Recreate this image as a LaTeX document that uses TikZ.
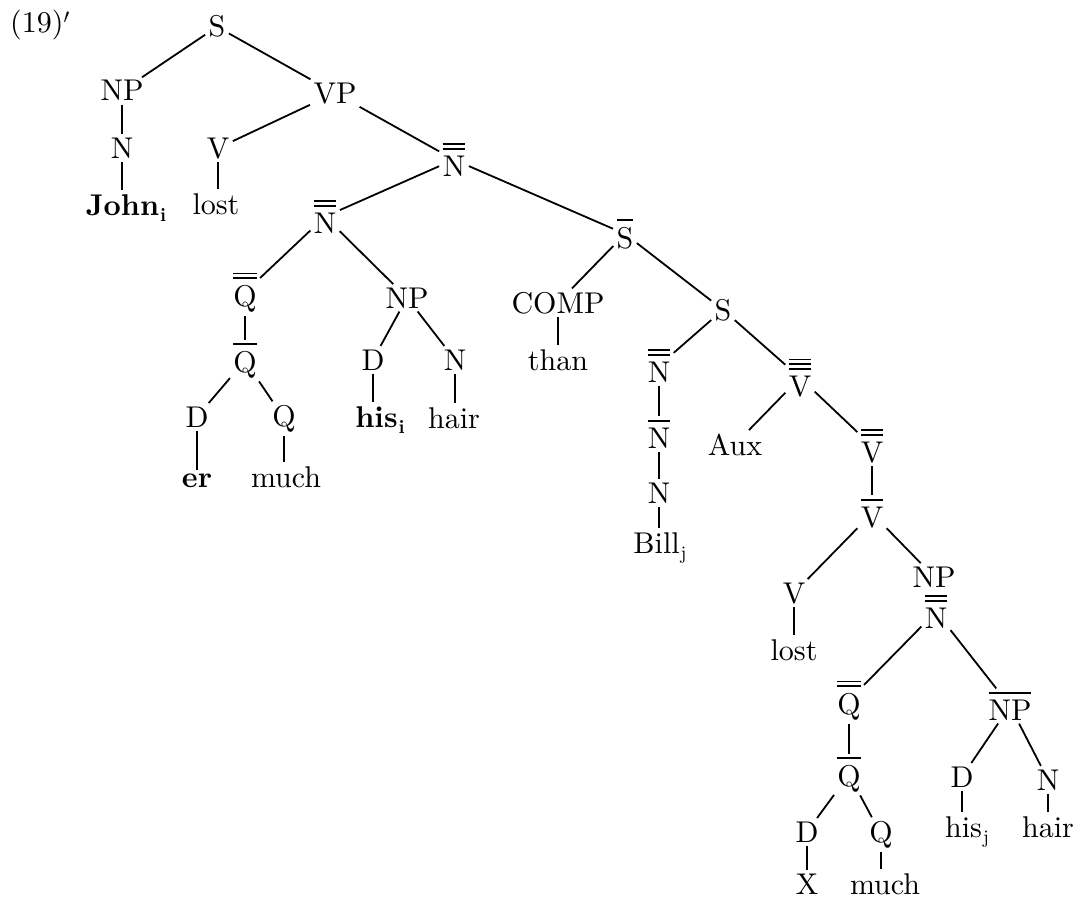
\documentclass[tikz,border=0pt]{standalone}
\usepackage{fontspec}
\setmainfont{lmroman10-regular.otf}[BoldFont=lmroman10-bold.otf]
\newbox\lblbox
% category labels with one, two or three bars above them
\newcommand\barI[1]{\setbox\lblbox=\hbox{#1}\vbox{\offinterlineskip\hrule height1.6pt\kern6pt\box\lblbox}}
\newcommand\barII[1]{\setbox\lblbox=\hbox{#1}\vbox{\offinterlineskip\hrule height1.6pt\kern3pt\hrule height1.6pt\kern6pt\box\lblbox}}
\newcommand\barIII[1]{\setbox\lblbox=\hbox{#1}\vbox{\offinterlineskip\hrule height1.6pt\kern3pt\hrule height1.6pt\kern3pt\hrule height1.6pt\kern6pt\box\lblbox}}
% index subscripts
\newcommand\subx[1]{\kern1pt\raisebox{-6pt}{\fontsize{19}{21}\selectfont #1}}
\tikzset{
  lab/.style={anchor=base, inner sep=2.5pt, font=\fontsize{30}{35}\selectfont},
  branch/.style={line width=1.8pt, shorten <=1pt, shorten >=1pt},
}
\begin{document}
\begin{tikzpicture}[x=1pt,y=-1pt]
\useasboundingbox (0,0) rectangle (1077,899);
\node[lab] (ex) at (40,33) {(19)$'$};
% upper part of the tree
\node[lab] (S0) at (217,37) {S};
\node[lab] (NP1) at (122,101) {NP};
\node[lab] (VP) at (335,103) {VP};
\node[lab] (N1) at (122,158) {N};
\node[lab] (V1) at (218,158) {V};
\node[lab] (John) at (126,215) {\textbf{John}\subx{\textbf{i}}};
\node[lab] (lost1) at (216,214) {lost};
\node[lab] (Nbb1) at (454,176) {\barII{N}};
\node[lab] (Nbb2) at (325,233) {\barII{N}};
\node[lab] (Sb) at (625,248) {\barI{S}};
% comparative phrase of the matrix clause
\node[lab] (Qbb1) at (245,306) {\barII{Q}};
\node[lab] (NP2) at (407,308) {NP};
\node[lab] (Qb1) at (245,372) {\barI{Q}};
\node[lab] (D1) at (197,427) {D};
\node[lab] (Q1) at (284,426) {Q};
\node[lab] (er) at (197,487) {\textbf{er}};
\node[lab] (much1) at (286,487) {much};
\node[lab] (D2) at (373,370) {D};
\node[lab] (N2) at (455,370) {N};
\node[lab] (his1) at (380,427) {\textbf{his}\subx{\textbf{i}}};
\node[lab] (hair1) at (454,428) {hair};
% than-clause
\node[lab] (COMP) at (558,313) {COMP};
\node[lab] (than) at (558,370) {than};
\node[lab] (S2) at (723,320) {S};
\node[lab] (Nbb3) at (659,382) {\barII{N}};
\node[lab] (Nb3) at (659,448) {\barI{N}};
\node[lab] (N3) at (659,503) {N};
\node[lab] (Bill) at (660,553) {Bill\subx{j}};
\node[lab] (Vbbb) at (800,396) {\barIII{V}};
\node[lab] (Aux) at (735,455) {Aux};
\node[lab] (Vbb) at (872,462) {\barII{V}};
\node[lab] (Vb) at (872,527) {\barI{V}};
\node[lab] (V2) at (794,603) {V};
\node[lab] (lost2) at (794,660) {lost};
\node[lab] (NP3) at (934,587) {NP};
\node[lab] (Nbb4) at (936,628) {\barII{N}};
\node[lab] (Qbb2) at (849,714) {\barII{Q}};
\node[lab] (NPb) at (1010,720) {\barI{NP}};
\node[lab] (Qb2) at (849,786) {\barI{Q}};
\node[lab] (D3) at (807,842) {D};
\node[lab] (Q3) at (881,842) {Q};
\node[lab] (X) at (807,894) {X};
\node[lab] (much2) at (885,894) {much};
\node[lab] (D4) at (962,787) {D};
\node[lab] (N4) at (1048,790) {N};
\node[lab] (his2) at (967,837) {his\subx{j}};
\node[lab] (hair2) at (1048,837) {hair};
% branches
\draw[branch] (S0) -- (NP1);
\draw[branch] (S0) -- (VP);
\draw[branch] (NP1) -- (N1);
\draw[branch] (N1) -- (N1 |- John.north);
\draw[branch] (VP) -- (V1);
\draw[branch] (V1) -- (V1 |- lost1.north);
\draw[branch] (VP) -- (Nbb1);
\draw[branch] (Nbb1) -- (Nbb2);
\draw[branch] (Nbb1) -- (Sb);
\draw[branch] (Nbb2) -- (Qbb1);
\draw[branch] (Nbb2) -- (NP2);
\draw[branch] (Qbb1) -- (Qb1);
\draw[branch] (Qb1) -- (D1);
\draw[branch] (Qb1) -- (Q1);
\draw[branch] (D1) -- (D1 |- er.north);
\draw[branch] (Q1) -- (Q1 |- much1.north);
\draw[branch] (NP2) -- (D2);
\draw[branch] (NP2) -- (N2);
\draw[branch] (D2) -- (D2 |- his1.north);
\draw[branch] (N2) -- (N2 |- hair1.north);
\draw[branch] (Sb) -- (COMP);
\draw[branch] (Sb) -- (S2);
\draw[branch] (COMP) -- (than);
\draw[branch] (S2) -- (Nbb3);
\draw[branch] (S2) -- (Vbbb);
\draw[branch] (Nbb3) -- (Nb3);
\draw[branch] (Nb3) -- (N3);
\draw[branch] (N3) -- (N3 |- Bill.north);
\draw[branch] (Vbbb) -- (Aux);
\draw[branch] (Vbbb) -- (Vbb);
\draw[branch] (Vbb) -- (Vb);
\draw[branch] (Vb) -- (V2);
\draw[branch] (Vb) -- (NP3);
\draw[branch] (V2) -- (lost2);
\draw[branch] (Nbb4) -- (Qbb2);
\draw[branch] (Nbb4) -- (NPb);
\draw[branch] (Qbb2) -- (Qb2);
\draw[branch] (Qb2) -- (D3);
\draw[branch] (Qb2) -- (Q3);
\draw[branch] (D3) -- (X);
\draw[branch] (Q3) -- (Q3 |- much2.north);
\draw[branch] (NPb) -- (D4);
\draw[branch] (NPb) -- (N4);
\draw[branch] (D4) -- (D4 |- his2.north);
\draw[branch] (N4) -- (N4 |- hair2.north);
\end{tikzpicture}
\end{document}
